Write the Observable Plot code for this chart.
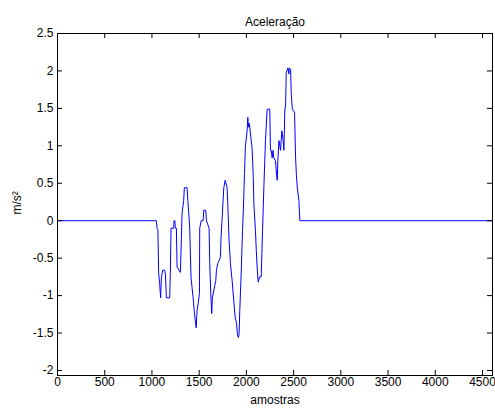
<!DOCTYPE html>
<html>
<head>
<meta charset="utf-8">
<script src="https://cdn.jsdelivr.net/npm/d3@7"></script>
<script src="https://cdn.jsdelivr.net/npm/@observablehq/plot@0.6"></script>
<style>
  body { margin: 0; background: #fff; }
  #chart svg { display: block; }
</style>
</head>
<body>
<div id="chart"></div>
<script>
const title = "Aceleração";
const xLabel = "amostras";
const yLabel = "m/s²";
const xTicks = [0, 500, 1000, 1500, 2000, 2500, 3000, 3500, 4000, 4500];
const yTicks = [-2, -1.5, -1, -0.5, 0, 0.5, 1, 1.5, 2, 2.5];
const xDomain = [0, 4606];
const yDomain = [-2.067, 2.5];

const samples = [0, 1047, 1054, 1063, 1071, 1082, 1092, 1100, 1114, 1135, 1143, 1153, 1188, 1195, 1202, 1230, 1234, 1243, 1247, 1259,
  1266, 1301, 1306, 1312, 1319, 1336, 1343, 1372, 1380, 1390, 1400, 1414, 1436, 1450, 1468, 1478, 1490, 1503, 1506, 1521,
  1542, 1549, 1570, 1577, 1605, 1612, 1623, 1633, 1640, 1676, 1683, 1697, 1725, 1732, 1746, 1761, 1775, 1796, 1803, 1815,
  1831, 1849, 1866, 1881, 1895, 1905, 1915, 1923, 1930, 1945, 1959, 1968, 1980, 1990, 2008, 2015, 2022, 2030, 2040, 2051,
  2060, 2072, 2079, 2096, 2105, 2114, 2125, 2140, 2157, 2164, 2171, 2185, 2202, 2220, 2248, 2255, 2263, 2273, 2282, 2290,
  2308, 2320, 2327, 2333, 2345, 2362, 2375, 2390, 2397, 2408, 2415, 2422, 2440, 2450, 2455, 2468, 2475, 2486, 2496, 2510,
  2521, 2530, 2539, 2556, 2566, 4606];
const accel = [0, 0, -0.1, -0.12, -0.7, -0.84, -1.03, -0.76, -0.66, -0.66, -0.72, -1.03, -1.03, -0.69, -0.1, -0.1, 0, 0, -0.1, -0.1,
  -0.62, -0.69, -0.49, -0.22, 0.1, 0.27, 0.44, 0.44, 0.27, 0.1, -0.1, -0.76, -1.03, -1.24, -1.43, -1.2, -1.1, -0.97, -0.1, 0,
  0, 0.14, 0.14, 0, -0.1, -0.57, -0.97, -1.24, -1.03, -0.8, -0.66, -0.57, -0.49, -0.22, 0.1, 0.44, 0.54, 0.44, 0.23, -0.22,
  -0.57, -0.8, -1.06, -1.29, -1.36, -1.51, -1.56, -1.51, -1.2, -0.7, -0.13, 0.14, 0.63, 1.0, 1.2, 1.38, 1.25, 1.3, 1.2, 1.07,
  0.98, 0.63, 0.23, -0.13, -0.4, -0.62, -0.82, -0.75, -0.75, -0.44, -0.13, 0.44, 1.07, 1.49, 1.49, 0.94, 0.94, 0.84, 0.94, 0.84,
  0.8, 0.6, 0.54, 0.8, 1.07, 0.94, 1.2, 1.07, 0.94, 1.51, 1.51, 1.98, 2.04, 1.96, 2.04, 2.02, 1.7, 1.5, 1.47, 1.45,
  0.84, 0.6, 0.44, 0.27, 0, 0];

const data = samples.map((s, i) => ({s, a: accel[i]}));

const W = 495, H = 408;
const mTop = 33, mBottom = 33, mLeft = 57, mRight = 3;
const innerW = W - mLeft - mRight;
const innerH = H - mTop - mBottom;
const tick = 5;
const font = "'Liberation Sans', Arial, Helvetica, sans-serif";
const fs = 12;

const chart = Plot.plot({
  width: W,
  height: H,
  marginTop: mTop,
  marginBottom: mBottom,
  marginLeft: mLeft,
  marginRight: mRight,
  style: {fontFamily: font, fontSize: fs + "px", background: "#fff", color: "#000"},
  x: {domain: xDomain},
  y: {domain: yDomain},
  marks: [
    Plot.line(data, {x: "s", y: "a", stroke: "#0000ff", strokeWidth: 1}),
    // inward ticks on all four sides
    Plot.tickX(xTicks, {x: d => d, insetTop: innerH - tick, stroke: "#000"}),
    Plot.tickX(xTicks, {x: d => d, insetBottom: innerH - tick, stroke: "#000"}),
    Plot.tickY(yTicks, {y: d => d, insetRight: innerW - tick, stroke: "#000"}),
    Plot.tickY(yTicks, {y: d => d, insetLeft: innerW - tick, stroke: "#000"}),
    Plot.axisX(xTicks, {tickSize: 0, tickPadding: 2, tickFormat: d => String(d), label: null, fill: "#000", fontSize: fs}),
    Plot.axisY(yTicks, {tickSize: 0, tickPadding: 4, tickFormat: d => String(d), label: null, fill: "#000", fontSize: fs}),
    Plot.frame({stroke: "#000", strokeWidth: 1}),
    Plot.text([title], {text: d => d, frameAnchor: "top", dy: -16, fill: "#000", fontSize: fs}),
    Plot.text([xLabel], {text: d => d, frameAnchor: "bottom", dy: 28, fill: "#000", fontSize: fs}),
    Plot.text([yLabel], {text: d => d, frameAnchor: "left", dx: -40, dy: 10, rotate: -90, fill: "#000", fontSize: fs})
  ]
});
document.getElementById("chart").appendChild(chart);
</script>
</body>
</html>
